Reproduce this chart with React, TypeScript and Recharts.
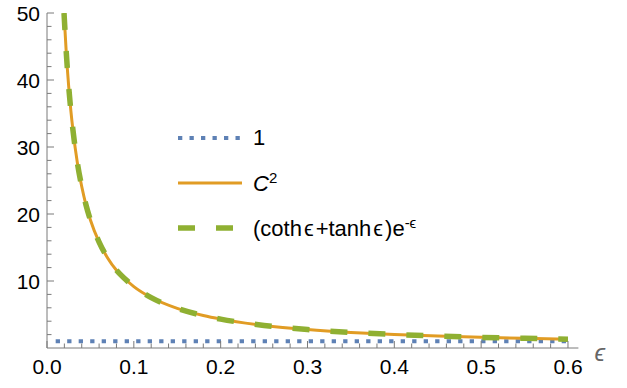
import React from "react";
import { LineChart, Line, XAxis, YAxis } from "recharts";

// epsilon grid (both curves lie on top of each other)
const epsValues = [
  0.0196, 0.022, 0.025, 0.0275, 0.03, 0.035, 0.04, 0.045, 0.05, 0.06, 0.07,
  0.08, 0.09, 0.1, 0.12, 0.15, 0.18, 0.2, 0.25, 0.3, 0.35, 0.4, 0.45, 0.5,
  0.55, 0.6,
];
const c2Values = [
  50.0, 44.5, 39.0, 35.4, 32.4, 27.6, 24.1, 21.3, 19.1, 15.8, 13.4, 11.6,
  10.3, 9.17, 7.53, 5.91, 4.84, 4.31, 3.37, 2.76, 2.33, 2.02, 1.78, 1.59,
  1.44, 1.32,
];
const cothTanhValues = [
  50.0, 44.5, 39.0, 35.4, 32.4, 27.6, 24.1, 21.3, 19.1, 15.8, 13.4, 11.6,
  10.3, 9.17, 7.53, 5.91, 4.84, 4.31, 3.37, 2.76, 2.33, 2.02, 1.78, 1.59,
  1.44, 1.32,
];
const oneEps = [0.01, 0.6];
const oneValues = [1, 1];

const xTicks = Array.from({ length: 31 }, (_, i) => +(i * 0.02).toFixed(2));
const yTicks = Array.from({ length: 25 }, (_, i) => (i + 1) * 2);

const c2Data = epsValues.map((x, i) => ({ x, y: c2Values[i] }));
const cothData = epsValues.map((x, i) => ({ x, y: cothTanhValues[i] }));
const oneData = oneEps.map((x, i) => ({ x, y: oneValues[i] }));

const BLUE = "#5E81B5";
const ORANGE = "#E19C24";
const GREEN = "#8FB032";
const AXIS = "#7a7a7a";
const FONT = "'Liberation Sans', Arial, sans-serif";

const LEFT = 47;
const BOTTOM = 348;

function XTick({ x, payload }: any) {
  const v = payload.value as number;
  const major = Math.abs(v * 10 - Math.round(v * 10)) < 1e-6;
  const len = major ? 7 : 4.5;
  return (
    <g>
      <path d={`M${x},${BOTTOM}L${x},${BOTTOM - len}`} stroke={AXIS} strokeWidth={1} fill="none" />
      {major && (
        <text x={x} y={BOTTOM + 26} textAnchor="middle" fontSize={21} fontFamily={FONT} fill="#000">
          {v.toFixed(1)}
        </text>
      )}
    </g>
  );
}

function YTick({ y, payload }: any) {
  const v = payload.value as number;
  const major = v % 10 === 0;
  const len = major ? 7 : 4.5;
  return (
    <g>
      <path d={`M${LEFT},${y}L${LEFT + len},${y}`} stroke={AXIS} strokeWidth={1} fill="none" />
      {major && (
        <text x={LEFT - 7} y={y + 7.5} textAnchor="end" fontSize={21} fontFamily={FONT} fill="#000">
          {v}
        </text>
      )}
    </g>
  );
}

const Eps = () => <span style={{ margin: "0 2px" }}>&#x3F5;</span>;

function LegendBox() {
  const rows = [
    { key: "one", color: BLUE, width: 4, dash: "4.3 7.2", label: <>1</> },
    {
      key: "c2",
      color: ORANGE,
      width: 3,
      dash: undefined,
      label: (
        <>
          <i>C</i>
          <sup style={{ fontSize: 15 }}>2</sup>
        </>
      ),
    },
    {
      key: "coth",
      color: GREEN,
      width: 5.5,
      dash: "17 21",
      label: (
        <>
          (coth<Eps />+tanh<Eps />)e<sup style={{ fontSize: 15 }}>-&#x3F5;</sup>
        </>
      ),
    },
  ];
  return (
    <div style={{ fontFamily: FONT, fontSize: 22, color: "#000" }}>
      {rows.map((r) => (
        <div key={r.key} style={{ display: "flex", alignItems: "center", height: 45 }}>
          <svg width={77} height={10}>
            <line x1={2} x2={66} y1={5} y2={5} stroke={r.color} strokeWidth={r.width} strokeDasharray={r.dash} />
          </svg>
          <span style={{ lineHeight: 1 }}>{r.label}</span>
        </div>
      ))}
    </div>
  );
}

export default function App() {
  return (
    <div style={{ position: "absolute", left: 0, top: 0, width: 627, height: 388, background: "#fff" }}>
      <LineChart width={627} height={388} margin={{ top: 13, right: 48.6, bottom: 0, left: 0 }}>
        <XAxis
          type="number"
          dataKey="x"
          domain={[0, 0.612]}
          ticks={xTicks}
          interval={0}
          height={40}
          axisLine={{ stroke: AXIS }}
          tickLine={false}
          tick={<XTick />}
          allowDataOverflow
          label={{
            value: "\u03F5",
            position: "right",
            offset: 16,
            dy: -16,
            fill: "#666",
            fontSize: 24,
            fontStyle: "italic",
            fontFamily: FONT,
          }}
        />
        <YAxis
          type="number"
          domain={[0, 50]}
          ticks={yTicks}
          interval={0}
          width={47}
          axisLine={{ stroke: AXIS }}
          tickLine={false}
          tick={<YTick />}
          allowDataOverflow
        />
        <Line
          data={oneData}
          dataKey="y"
          stroke={BLUE}
          strokeWidth={4}
          strokeDasharray="4.3 7.2"
          dot={false}
          isAnimationActive={false}
        />
        <Line
          data={c2Data}
          dataKey="y"
          type="monotone"
          stroke={ORANGE}
          strokeWidth={3}
          dot={false}
          isAnimationActive={false}
        />
        <Line
          data={cothData}
          dataKey="y"
          type="monotone"
          stroke={GREEN}
          strokeWidth={5.5}
          strokeDasharray="17 21"
          dot={false}
          isAnimationActive={false}
        />
      </LineChart>
      <div style={{ position: "absolute", left: 176, top: 115 }}>
        <LegendBox />
      </div>
    </div>
  );
}
